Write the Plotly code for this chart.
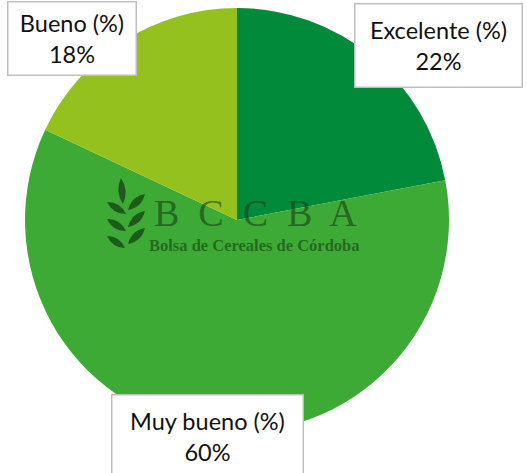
import plotly.graph_objects as go

categories = ["Excelente (%)", "Muy bueno (%)", "Bueno (%)"]
values = [22, 60, 18]
colors = ["#008a3a", "#3daa35", "#95c11f"]

W, H = 527, 473

fig = go.Figure()
fig.add_trace(go.Pie(
    labels=categories, values=values, sort=False, direction="clockwise",
    rotation=0, marker=dict(colors=colors, line=dict(width=0)),
    textinfo="none", hoverinfo="label+percent", showlegend=False,
    domain=dict(x=[25 / W, 449 / W], y=[1 - 432 / H, 1 - 8 / H]),
))

# label boxes (centre px, width, height)
boxes = [
    (438.5, 46, 166, 82),
    (207.5, 436, 190, 82),
    (72, 38.5, 127, 72),
]
for cat, val, (cx, cy, bw, bh) in zip(categories, values, boxes):
    fig.add_annotation(
        x=cx / W, y=1 - cy / H, xref="paper", yref="paper",
        xanchor="center", yanchor="middle",
        text=f"{cat}<br>{val}%", showarrow=False,
        width=bw, height=bh, borderpad=0,
        bgcolor="white", bordercolor="#bfbfbf", borderwidth=1.5,
        font=dict(family="Lato, Open Sans, sans-serif", size=23.5, color="#111111"),
        align="center", valign="middle",
    )

# watermark
wm = "rgba(20,65,20,0.62)"
fig.add_annotation(x=255 / W, y=1 - 213 / H, xref="paper", yref="paper",
                   xanchor="center", yanchor="middle",
                   text="B  C  C  B  A", showarrow=False,
                   font=dict(family="Liberation Serif, DejaVu Serif, serif", size=38, color=wm))
fig.add_annotation(x=254 / W, y=1 - 245 / H, xref="paper", yref="paper",
                   xanchor="center", yanchor="middle",
                   text="<b>Bolsa de Cereales de Córdoba</b>", showarrow=False,
                   font=dict(family="Liberation Serif, DejaVu Serif, serif", size=16.5, color=wm))

def px(x, y):
    return f"{x / W:.4f} {1 - y / H:.4f}"

leafc = "rgba(20,60,20,0.72)"
shapes = []
leaves = [
    (123, 204, 121, 178, 0.28),
    (126, 214, 107, 202, 0.32), (128, 210, 145, 194, 0.32),
    (126, 231, 107, 219, 0.32), (128, 227, 145, 211, 0.32),
    (125, 248, 107, 236, 0.32), (128, 244, 145, 228, 0.32),
]
for bx, by, tx, ty, k in leaves:
    mx, my = (bx + tx) / 2, (by + ty) / 2
    dx, dy = tx - bx, ty - by
    nx, ny = -dy * k, dx * k
    p = (f"M {px(bx,by)} Q {px(mx+nx,my+ny)} {px(tx,ty)} "
         f"Q {px(mx-nx,my-ny)} {px(bx,by)} Z")
    shapes.append(dict(type="path", xref="paper", yref="paper", path=p,
                       fillcolor=leafc, line=dict(width=0)))

fig.update_layout(
    width=W, height=H, margin=dict(l=0, r=0, t=0, b=0),
    paper_bgcolor="white", plot_bgcolor="white", shapes=shapes,
)

fig.write_html("out.html", config={"displayModeBar": False},
               post_script="document.body.style.margin='0';")
